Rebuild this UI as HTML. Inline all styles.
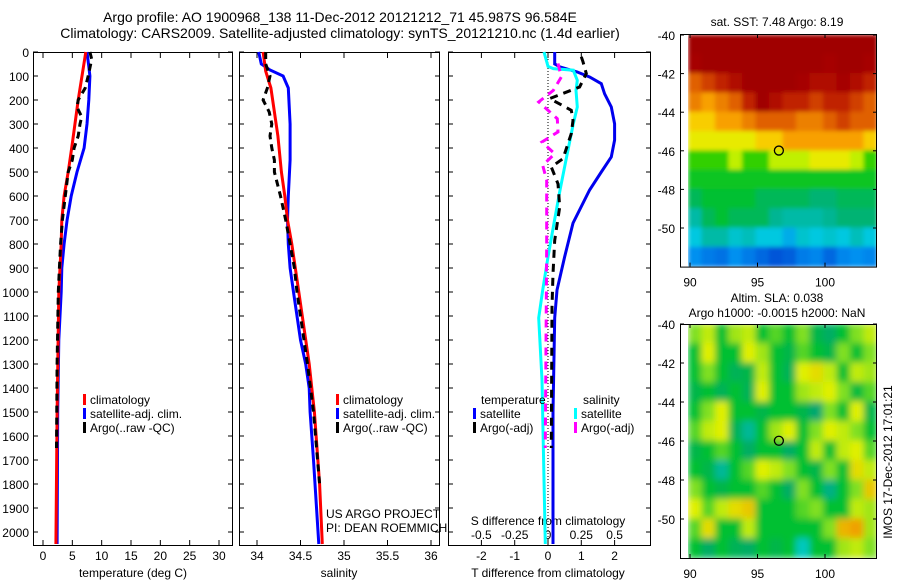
<!DOCTYPE html>
<html><head><meta charset="utf-8"><style>
body{margin:0;background:#fff}
svg{display:block;font-family:"Liberation Sans",sans-serif}
</style></head><body>
<svg id="c" width="900" height="580" viewBox="0 0 900 580">
<defs>
<filter id="blurSst" x="0" y="0" width="1" height="1"><feGaussianBlur stdDeviation="2" edgeMode="duplicate"/></filter>
<filter id="blurSla" x="0" y="0" width="1" height="1"><feGaussianBlur stdDeviation="3.5" edgeMode="duplicate"/></filter>
</defs>
<text x="340" y="22" font-size="14" text-anchor="middle">Argo profile: AO 1900968_138 11-Dec-2012 20121212_71 45.987S 96.584E</text>
<text x="340" y="38" font-size="14" text-anchor="middle">Climatology: CARS2009. Satellite-adjusted climatology: synTS_20121210.nc (1.4d earlier)</text>
</svg>
<script>
// ---------- data ----------
const tClimDepth=[0,200,400,500,600,700,800,1000,1500,2050];
const tClimVal=[7.3,6.0,4.9,4.3,3.6,3.2,3.1,2.7,2.4,2.2];
const tSatDepth=[0,60,100,200,300,400,500,600,700,800,900,1000,1200,1500,2050];
const tSatVal=[7.5,7.8,8.0,7.8,7.5,7.0,5.8,4.8,4.1,3.6,3.2,3.1,2.7,2.5,2.4];
const tArgoDepth=[0,30,100,150,200,230,270,300,350,400,450,500,600,700,800,900,1000,1300,1650];
const tArgoVal=[8.0,8.3,7.7,7.2,6.0,5.8,6.6,6.3,6.0,5.3,5.0,4.3,3.8,3.3,3.0,2.8,2.6,2.4,2.3];
const sClimDepth=[0,80,150,250,350,500,600,700,800,900,1000,1300,1500,1800,2050];
const sClimVal=[34.07,34.1,34.16,34.2,34.24,34.28,34.32,34.35,34.4,34.44,34.48,34.6,34.66,34.72,34.75];
const sSatDepth=[0,50,75,100,150,300,450,600,700,800,900,1000,1200,1300,1400,1500,1700,2050];
const sSatVal=[34.02,34.05,34.15,34.3,34.36,34.38,34.38,34.36,34.35,34.36,34.38,34.42,34.5,34.56,34.6,34.61,34.65,34.71];
const sArgoDepth=[0,50,100,150,200,250,300,350,400,450,500,600,700,800,900,1000,1300,1500,1800];
const sArgoVal=[34.1,34.1,34.15,34.12,34.07,34.14,34.17,34.15,34.17,34.2,34.2,34.27,34.33,34.38,34.43,34.46,34.58,34.65,34.72];
const dTSatDepth=[0,50,62,83,104,132,174,229,299,367,437,500,575,713,854,992,1108,1500,2050];
const dTSatVal=[0.2,0.2,0.36,0.87,1.25,1.6,1.7,1.9,2.0,2.0,1.9,1.6,1.25,0.75,0.5,0.27,0.2,0.15,0.15];
const dSSatDepth=[0,60,69,76,118,160,229,299,437,576,713,854,992,1108,1367,2050];
const dSSatVal=[-0.03,0.0,0.04,0.19,0.22,0.21,0.22,0.19,0.14,0.09,0.045,0,-0.04,-0.07,-0.045,-0.02];
const dTArgoDepth=[20,41,90,146,194,243,285,340,444,479,549,646,785,924,1063,1650];
const dTArgoVal=[1.0,1.05,1.15,0.95,0.05,0.7,0.75,0.7,0.45,0.1,0.3,0.35,0.2,0.15,0.12,0.1];
const dSArgoDepth=[48,104,160,208,243,278,333,375,424,472,535,800,1650];
const dSArgoVal=[0.075,0.1,0.04,-0.07,0,0.07,0.075,-0.045,0.05,-0.04,-0.01,-0.01,-0.02];
const tTicks=[0,5,10,15,20,25,30];
const sTicks=[34,34.5,35,35.5,36];
const dTTicks=[-2,-1,0,1,2];
const dSTicks=[-0.5,-0.25,0,0.25,0.5];
const depthTicks=[0,100,200,300,400,500,600,700,800,900,1000,1100,1200,1300,1400,1500,1600,1700,1800,1900,2000];
const mapLatTicks=[-40,-42,-44,-46,-48,-50];
const mapLonTicks=[90,95,100];
const sstGrid=[
[10,10,10,10,10,10,10,10,10,10,10,10,10,10],
[9.8,10,10,10,10,10,10,10,10,10,9.8,10,10,9.8],
[8,8.5,9,9.5,10,10,10,10,9.8,9.5,9.5,9.8,9.5,9],
[7.5,7,7.5,8,9,10,9.5,9,9,8.5,9,9,8.5,8],
[6.5,6.5,7,7,7.5,8,8,8,7.5,7.5,8,8.5,8,8],
[6,6,6,6,6,6.5,6.5,7,7,7,7,7,7,6.5],
[5,5,5,5.5,5,5,5.5,5.5,5.5,6,6,6,5.5,5],
[4.5,4.5,4.5,4.5,4.5,4.5,4.5,4.5,4.5,4.5,4.5,4.5,4.5,4.5],
[4,4.3,4.3,4.3,4.3,4,4,4,4,3.8,3.8,4,4,4],
[3.5,4,4.3,4,4,4,3.6,3.5,3.5,3.5,3.6,3.8,3.8,3.8],
[3.2,3.5,3.5,3.3,3.4,3.2,3.2,3,3.3,3.2,3.3,3.2,3.4,3.2],
[2.8,2.6,2.5,2.8,2.6,2.4,2.2,2.3,2.6,2.7,2.4,2.7,2.8,2.7]];
const slaGrid=[
[0.3,0.5,0,0.4,0.5,0,0.2,0,0.3,-0.2,-0.4,0,0.3,0.5],
[0,0.6,0,0,0.6,0.4,0,-0.2,0.2,0,-0.2,0.3,0,0.3],
[0,0.3,0,-0.3,-0.2,0.5,0,-0.3,0.6,0.7,0.5,0,0.5,0.4],
[-0.2,0,-0.3,0,-0.3,0.6,0,0,0.4,0.5,0.6,0.3,-0.1,0.2],
[0,0.3,0.6,0,0,-0.2,0,0,-0.2,-0.5,0.3,0,0.6,-0.2],
[0.2,0.5,0.6,-0.3,-0.7,0,0.4,0.6,0,0.3,0.6,0.5,0.3,0],
[-0.2,0,0.2,0,-0.4,0,0,-0.4,0,0.5,0,0.5,0.6,0.2],
[0,-0.2,-0.7,0,0.2,0.6,0.5,0.3,0,-0.2,0.3,0,0.7,0.5],
[0.3,0,-0.2,0,0,0.2,0,-0.4,0.3,0,-0.6,0,0.3,0.8],
[0.6,0.2,0.5,0.7,0.8,0,0,0,0.2,0.3,0,0,0.5,0.4],
[0.2,0.7,0,0,0.5,0,0,0,0,0,0.3,0.9,1,0.4],
[0,-0.4,0,-0.3,-0.4,0,-0.2,0,-0.9,0,0,0.4,0.5,0.3]];
const argoLon=96.584, argoLat=-45.987;

// ---------- scales ----------
const dy=d=>52+d*0.24;
const xT=t=>43+t*5.867;
const xS=s=>257+(s-34)*87;
const xD=t=>548+t*33.3;
const xDS=s=>xD(s*4);
const mX=lon=>690+(lon-90)*13.5;
const m1Y=lat=>35+(-40-lat)*19.3;
const m2Y=lat=>324+(-40-lat)*19.5;

const svg=document.getElementById('c');
const NS='http://www.w3.org/2000/svg';
function mk(tag,at,parent){const e=document.createElementNS(NS,tag);for(const k in at)e.setAttribute(k,at[k]);(parent||svg).appendChild(e);return e;}
function txt(x,y,s,size,anchor){const e=mk('text',{x:x,y:y,'font-size':size||12,'text-anchor':anchor||'middle'});e.textContent=s;return e;}

function line(depths,vals,xf,color,dash,name){
  const pts=depths.map((d,i)=>xf(vals[i]).toFixed(1)+','+dy(d).toFixed(1)).join(' ');
  const p=mk('polyline',{points:pts,fill:'none',stroke:color,'stroke-width':3,'stroke-dasharray':dash||'none'});
  
  
}
function panel(x0,x1,name){
  const r=mk('rect',{x:x0+0.5,y:52.5,width:x1-x0,height:493,fill:'none',stroke:'#000','stroke-width':1});
  
  
  depthTicks.forEach(d=>{
    mk('line',{x1:x0,y1:dy(d),x2:x0+5,y2:dy(d),stroke:'#000'});
    mk('line',{x1:x1-4,y1:dy(d),x2:x1+1,y2:dy(d),stroke:'#000'});
  });
}
panel(33,232,'temperature-panel');
panel(239,439,'salinity-panel');
panel(448,650,'difference-panel');
depthTicks.forEach(d=>{const t=txt(29,dy(d)+5,String(d),12,'end');

});
tTicks.forEach(v=>{const x=xT(v);mk('line',{x1:x,y1:53,x2:x,y2:58,stroke:'#000'});mk('line',{x1:x,y1:540,x2:x,y2:545,stroke:'#000'});
const t=txt(x,560,String(v));

});
sTicks.forEach(v=>{const x=xS(v);mk('line',{x1:x,y1:53,x2:x,y2:58,stroke:'#000'});mk('line',{x1:x,y1:540,x2:x,y2:545,stroke:'#000'});
const t=txt(x,560,String(v));

});
dTTicks.forEach(v=>{const x=xD(v);mk('line',{x1:x,y1:53,x2:x,y2:58,stroke:'#000'});mk('line',{x1:x,y1:540,x2:x,y2:545,stroke:'#000'});
const t=txt(x,560,String(v));

});
dSTicks.forEach(v=>{const t=txt(xDS(v),539,String(v));

});
let e;
e=txt(133,577,'temperature (deg C)');
e=txt(339,577,'salinity');
e=txt(548,577,'T difference from climatology');
e=txt(548,525,'S difference from climatology');
e=txt(326,518,'US ARGO PROJECT',12,'start');
e=txt(326,532,'PI: DEAN ROEMMICH',12,'start');
e=mk('line',{x1:xD(0),y1:53,x2:xD(0),y2:545,stroke:'#000','stroke-dasharray':'1 2'});



line(tSatDepth,tSatVal,xT,'#0000ff',null,'temp-satellite-line');
line(tClimDepth,tClimVal,xT,'#ff0000',null,'temp-climatology-line');
line(tArgoDepth,tArgoVal,xT,'#000','7 5','temp-argo-line');
line(sSatDepth,sSatVal,xS,'#0000ff',null,'sal-satellite-line');
line(sClimDepth,sClimVal,xS,'#ff0000',null,'sal-climatology-line');
line(sArgoDepth,sArgoVal,xS,'#000','7 5','sal-argo-line');
line(dTSatDepth,dTSatVal,xD,'#0000ee',null,'t-diff-satellite-line');
line(dSSatDepth,dSSatVal,xDS,'#00ffff',null,'s-diff-satellite-line');
line(dTArgoDepth,dTArgoVal,xD,'#000','8 6','t-diff-argo-line');
line(dSArgoDepth,dSArgoVal,xDS,'#ff00ff','8 6','s-diff-argo-line');

function leg(x,y,color,label,name){
  const g=mk('g',{});
  
  
  mk('rect',{x:x,y:y-10,width:3,height:11,fill:color},g);
  const t=mk('text',{x:x+7,y:y,'font-size':12},g);t.textContent=label;
}
leg(83,404,'#f00','climatology','legend-climatology-temp');
leg(83,418,'#00f','satellite-adj. clim.','legend-satellite-temp');
leg(83,432,'#000','Argo(..raw -QC)','legend-argo-temp');
leg(336,404,'#f00','climatology','legend-climatology-sal');
leg(336,418,'#00f','satellite-adj. clim.','legend-satellite-sal');
leg(336,432,'#000','Argo(..raw -QC)','legend-argo-sal');
e=txt(481,404,'temperature',12,'start');
e=txt(583,404,'salinity',12,'start');
leg(473,418,'#00f','satellite','legend-t-diff-satellite');
leg(473,432,'#000','Argo(-adj)','legend-t-diff-argo');
leg(574,418,'#0ff','satellite','legend-s-diff-satellite');
leg(574,432,'#f0f','Argo(-adj)','legend-s-diff-argo');

function lerpColor(stops,v){
  if(v<=stops[0][0])return 'rgb('+stops[0][1].join(',')+')';
  for(let i=1;i<stops.length;i++){if(v<=stops[i][0]){const a=stops[i-1],b=stops[i];const f=(v-a[0])/(b[0]-a[0]);
  const ca=a[1],cb=b[1];return 'rgb('+[0,1,2].map(k=>Math.round(ca[k]+(cb[k]-ca[k])*f)).join(',')+')';}}
  return 'rgb('+stops[stops.length-1][1].join(',')+')';
}
const sstStops=[[2,[0,64,208]],[2.8,[0,144,240]],[3.2,[0,200,224]],[3.7,[0,176,128]],[4.3,[0,192,48]],[5,[48,208,0]],[5.5,[192,240,0]],[6.2,[248,232,0]],[7,[248,160,0]],[8,[224,96,0]],[9,[192,32,0]],[10,[160,0,0]]];
const slaStops=[[-1,[0,208,208]],[-0.5,[0,168,112]],[0,[0,192,48]],[0.3,[128,224,32]],[0.6,[224,240,0]],[1,[240,160,0]]];
function drawMap(grid,stops,yf,name,clipId,top,filterId){
  const outer=mk('g',{'clip-path':'url(#'+clipId+')'});
  
  
  const g=mk('g',{filter:'url(#'+filterId+')'},outer);
  const cp=mk('clipPath',{id:clipId});
  mk('rect',{x:688,y:top,width:188,height:yf(-52)-top},cp);
  grid.forEach((row,r)=>row.forEach((v,c)=>{
    const x0=mX(89.85+c),x1=mX(90.85+c),y0=yf(-40-r),y1=yf(-41-r);
    const cell=mk('rect',{x:x0,y:y0-0.5,width:x1-x0+0.6,height:y1-y0+1,fill:lerpColor(stops,v)},g);
    
    
  }));
  mk('rect',{x:680.5,y:top+0.5,width:196,height:yf(-52)-top,fill:'none',stroke:'#000'});
  mapLatTicks.forEach(l=>{const y=yf(l);mk('line',{x1:680,y1:y,x2:684,y2:y,stroke:'#000'});mk('line',{x1:873,y1:y,x2:877,y2:y,stroke:'#000'});
    const t=txt(675,y+5,String(l),12,'end');
    
    });
  const yb=yf(-52);
  mapLonTicks.forEach(l=>{const x=mX(l);mk('line',{x1:x,y1:yb-4,x2:x,y2:yb,stroke:'#000'});mk('line',{x1:x,y1:top,x2:x,y2:top+4,stroke:'#000'});
    const t=txt(x,yb+20,String(l));
    
    });
  const c=mk('circle',{cx:mX(argoLon),cy:yf(argoLat),r:4.5,fill:'none',stroke:'#000','stroke-width':1.3});
  
  
}
drawMap(sstGrid,sstStops,m1Y,'sst-map','clip1',34,'blurSst');
drawMap(slaGrid,slaStops,m2Y,'sla-map','clip2',324,'blurSla');
e=txt(777,26,'sat. SST: 7.48 Argo: 8.19');
e=txt(777,302,'Altim. SLA: 0.038');
e=txt(777,317,'Argo h1000: -0.0015 h2000: NaN');
e=mk('text',{x:0,y:0,'font-size':12,'text-anchor':'middle',transform:'translate(892,462) rotate(-90)'});
e.textContent='IMOS 17-Dec-2012 17:01:21';


</script>
</body></html>
